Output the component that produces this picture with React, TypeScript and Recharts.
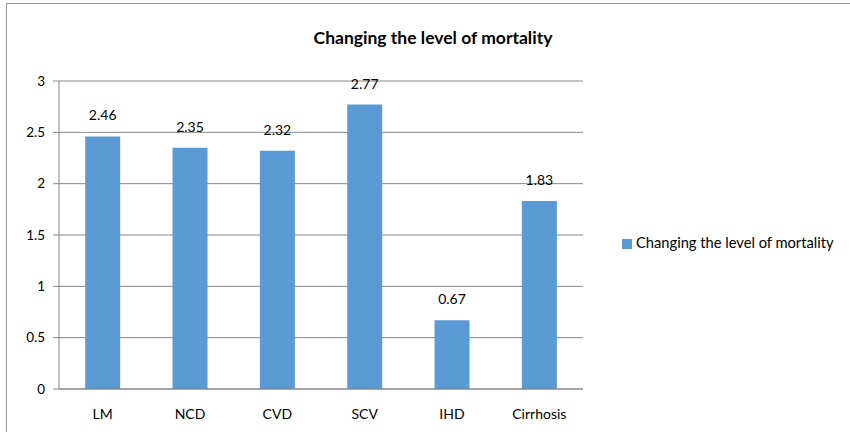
import React from 'react';
import { BarChart, Bar, XAxis, YAxis, CartesianGrid, Legend, LabelList } from 'recharts';

const categories = ['LM', 'NCD', 'CVD', 'SCV', 'IHD', 'Cirrhosis'];
const mortalityChange = [2.46, 2.35, 2.32, 2.77, 0.67, 1.83];
const yTicks = [0, 0.5, 1, 1.5, 2, 2.5, 3];
const edgeTicks = [0, 1, 2, 3, 4, 5, 6];

const SERIES = 'Changing the level of mortality';
const FONT = 'Lato, "Open Sans", sans-serif';
const GRAY = '#878787';

const data = categories.map((name, i) => ({ name, value: mortalityChange[i], idx: i }));

export default function App() {
  return (
    <div style={{ position: 'absolute', left: 0, top: 0, width: 850, height: 432, overflow: 'hidden', background: '#fff', fontFamily: FONT }}>
      {/* outer chart frame */}
      <div style={{ position: 'absolute', left: 6, top: 3, width: 900, height: 500, border: '1px solid #9a9a9a' }} />
      <div style={{ position: 'absolute', left: 0, top: 27, width: 866, textAlign: 'center', fontWeight: 700, fontSize: 17.5, color: '#000' }}>
        {SERIES}
      </div>
      <BarChart
        width={850}
        height={432}
        data={data}
        margin={{ top: 81, right: 267, bottom: 0, left: 0 }}
        barCategoryGap="30%"
        style={{ position: 'absolute', left: 0, top: 0 }}
      >
        <CartesianGrid vertical={false} stroke={GRAY} strokeWidth={1} />
        <XAxis
          xAxisId="edges"
          type="number"
          dataKey="idx"
          domain={[0, 6]}
          ticks={edgeTicks}
          tick={false}
          height={0}
          axisLine={false}
          tickLine={{ stroke: GRAY }}
          tickSize={6}
        />
        <XAxis
          dataKey="name"
          height={43}
          axisLine={{ stroke: GRAY }}
          tickLine={false}
          tickMargin={14}
          tick={{ fill: '#000', fontSize: 14, fontFamily: FONT }}
        />
        <YAxis
          width={59}
          domain={[0, 3]}
          ticks={yTicks}
          axisLine={{ stroke: GRAY }}
          tickLine={{ stroke: GRAY }}
          tickSize={6}
          tickMargin={8}
          tick={{ fill: '#000', fontSize: 13.5, fontFamily: FONT }}
        />
        <Legend
          layout="vertical"
          align="center"
          verticalAlign="middle"
          iconType="square"
          iconSize={10}
          wrapperStyle={{ left: 622, top: 233, width: 228, textAlign: 'left', fontSize: 14.7, fontFamily: FONT }}
          formatter={(v) => <span style={{ color: '#000' }}>{v}</span>}
        />
        <Bar dataKey="value" name={SERIES} fill="#5B9BD5" isAnimationActive={false}>
          <LabelList dataKey="value" position="top" offset={16} fill="#000" fontSize={14} fontFamily={FONT} />
        </Bar>
      </BarChart>
    </div>
  );
}
